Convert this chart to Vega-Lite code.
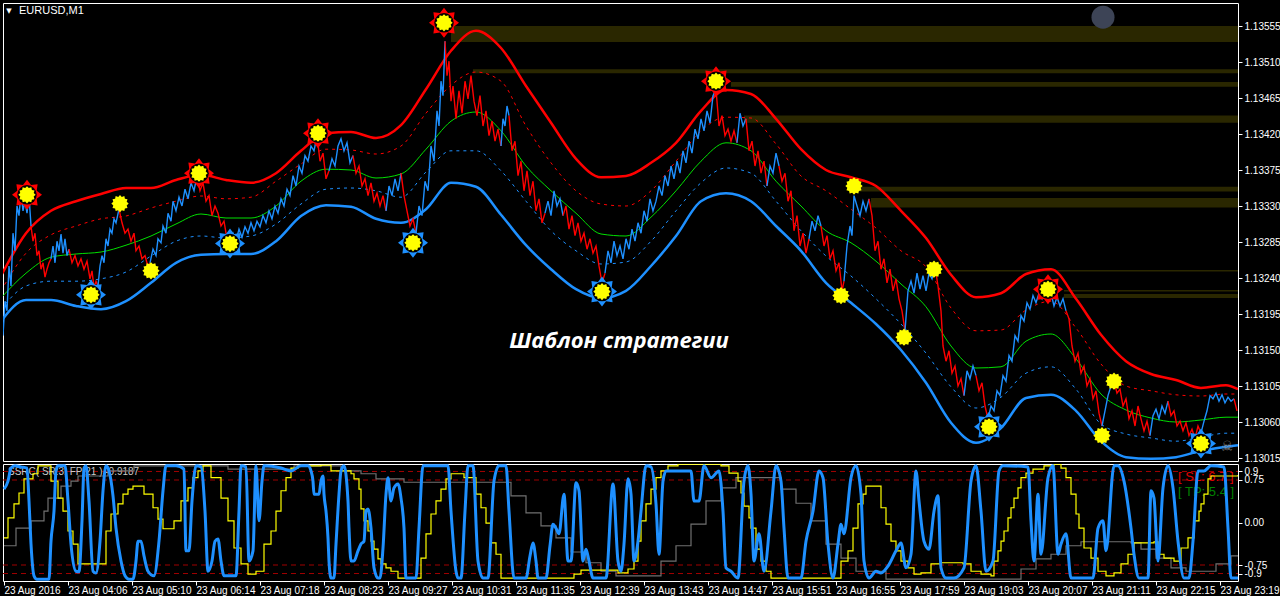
{
"$schema": "https://vega.github.io/schema/vega-lite/v6.json",
"background": "#000000",
"padding": {"left": 2, "top": 2, "right": 0, "bottom": 0},
"bounds": "flush",
"spacing": 3,
"config": {
  "view": {"stroke": "#ffffff", "strokeWidth": 1},
  "axis": {"labelColor": "#ffffff", "tickColor": "#ffffff", "domain": false, "grid": false, "labelFont": "Liberation Sans", "labelFontSize": 10, "title": null}
},
"datasets": {
  "price": [
{"t":2,"p":1.13168,"s":0,"d":"u"},{"t":4,"p":1.13211,"s":0,"d":"u"},{"t":6,"p":1.13199,"s":0,"d":"u"},{"t":8,"p":1.13255,"s":0,"d":"u"},{"t":10,"p":1.1323,"s":0,"d":"u"},{"t":12,"p":1.13296,"s":0,"d":"u"},{"t":14,"p":1.13274,"s":0,"d":"u"},{"t":16,"p":1.1333,"s":0,"d":"u"},{"t":18,"p":1.13318,"s":0,"d":"u"},{"t":20,"p":1.13346,"s":0,"d":"u"},{"t":22,"p":1.13324,"s":0,"d":"u"},{"t":24,"p":1.13336,"s":0,"d":"u"},{"t":26,"p":1.13321,"s":0,"d":"u"},{"t":28,"p":1.13343,"s":0,"d":"u"},{"t":30,"p":1.13305,"s":0,"d":"u"},
{"t":30,"p":1.13305,"s":1,"d":"d"},{"t":32,"p":1.13286,"s":1,"d":"d"},{"t":34,"p":1.13296,"s":1,"d":"d"},{"t":36,"p":1.13268,"s":1,"d":"d"},{"t":38,"p":1.13274,"s":1,"d":"d"},{"t":40,"p":1.13251,"s":1,"d":"d"},{"t":42,"p":1.13259,"s":1,"d":"d"},{"t":44,"p":1.13241,"s":1,"d":"d"},{"t":46,"p":1.13251,"s":1,"d":"d"},{"t":48,"p":1.13259,"s":1,"d":"d"},{"t":50,"p":1.13264,"s":1,"d":"d"},
{"t":50,"p":1.13264,"s":2,"d":"u"},{"t":52,"p":1.1328,"s":2,"d":"u"},{"t":54,"p":1.13259,"s":2,"d":"u"},{"t":56,"p":1.13286,"s":2,"d":"u"},{"t":58,"p":1.13274,"s":2,"d":"u"},{"t":60,"p":1.13295,"s":2,"d":"u"},{"t":62,"p":1.13271,"s":2,"d":"u"},{"t":64,"p":1.13289,"s":2,"d":"u"},{"t":66,"p":1.13268,"s":2,"d":"u"},{"t":68,"p":1.13276,"s":2,"d":"u"},
{"t":68,"p":1.13276,"s":3,"d":"d"},{"t":71,"p":1.13259,"s":3,"d":"d"},{"t":74,"p":1.13268,"s":3,"d":"d"},{"t":77,"p":1.13255,"s":3,"d":"d"},{"t":80,"p":1.13264,"s":3,"d":"d"},{"t":83,"p":1.13251,"s":3,"d":"d"},{"t":86,"p":1.13261,"s":3,"d":"d"},{"t":89,"p":1.13239,"s":3,"d":"d"},{"t":91,"p":1.13249,"s":3,"d":"d"},{"t":93,"p":1.13228,"s":3,"d":"d"},{"t":95,"p":1.13236,"s":3,"d":"d"},{"t":97,"p":1.1323,"s":3,"d":"d"},
{"t":97,"p":1.1323,"s":4,"d":"u"},{"t":99,"p":1.13255,"s":4,"d":"u"},{"t":101,"p":1.13268,"s":4,"d":"u"},{"t":103,"p":1.13259,"s":4,"d":"u"},{"t":105,"p":1.13289,"s":4,"d":"u"},{"t":107,"p":1.1328,"s":4,"d":"u"},{"t":109,"p":1.13301,"s":4,"d":"u"},{"t":111,"p":1.13296,"s":4,"d":"u"},{"t":113,"p":1.13314,"s":4,"d":"u"},{"t":115,"p":1.13309,"s":4,"d":"u"},{"t":118,"p":1.13326,"s":4,"d":"u"},
{"t":118,"p":1.13326,"s":5,"d":"d"},{"t":121,"p":1.13309,"s":5,"d":"d"},{"t":124,"p":1.13296,"s":5,"d":"d"},{"t":127,"p":1.13301,"s":5,"d":"d"},{"t":130,"p":1.13286,"s":5,"d":"d"},{"t":133,"p":1.13296,"s":5,"d":"d"},{"t":135,"p":1.13274,"s":5,"d":"d"},{"t":138,"p":1.1328,"s":5,"d":"d"},{"t":141,"p":1.13264,"s":5,"d":"d"},{"t":144,"p":1.13268,"s":5,"d":"d"},{"t":147,"p":1.13254,"s":5,"d":"d"},{"t":149,"p":1.13259,"s":5,"d":"d"},
{"t":149,"p":1.13259,"s":6,"d":"u"},{"t":152,"p":1.13276,"s":6,"d":"u"},{"t":155,"p":1.13268,"s":6,"d":"u"},{"t":157,"p":1.13289,"s":6,"d":"u"},{"t":160,"p":1.13284,"s":6,"d":"u"},{"t":162,"p":1.13305,"s":6,"d":"u"},{"t":165,"p":1.13296,"s":6,"d":"u"},{"t":167,"p":1.13321,"s":6,"d":"u"},{"t":170,"p":1.13311,"s":6,"d":"u"},{"t":172,"p":1.13336,"s":6,"d":"u"},{"t":175,"p":1.13324,"s":6,"d":"u"},{"t":178,"p":1.13341,"s":6,"d":"u"},{"t":181,"p":1.1333,"s":6,"d":"u"},{"t":184,"p":1.13351,"s":6,"d":"u"},{"t":187,"p":1.13339,"s":6,"d":"u"},{"t":190,"p":1.13359,"s":6,"d":"u"},{"t":193,"p":1.13349,"s":6,"d":"u"},{"t":196,"p":1.13368,"s":6,"d":"u"},
{"t":196,"p":1.13368,"s":7,"d":"d"},{"t":199,"p":1.13349,"s":7,"d":"d"},{"t":202,"p":1.13359,"s":7,"d":"d"},{"t":205,"p":1.13336,"s":7,"d":"d"},{"t":208,"p":1.13343,"s":7,"d":"d"},{"t":211,"p":1.13318,"s":7,"d":"d"},{"t":214,"p":1.1333,"s":7,"d":"d"},{"t":217,"p":1.13321,"s":7,"d":"d"},{"t":220,"p":1.13305,"s":7,"d":"d"},{"t":223,"p":1.13311,"s":7,"d":"d"},{"t":226,"p":1.13289,"s":7,"d":"d"},{"t":229,"p":1.13286,"s":7,"d":"d"},
{"t":229,"p":1.13286,"s":8,"d":"u"},{"t":232,"p":1.13296,"s":8,"d":"u"},{"t":235,"p":1.13286,"s":8,"d":"u"},{"t":238,"p":1.13301,"s":8,"d":"u"},{"t":241,"p":1.13291,"s":8,"d":"u"},{"t":244,"p":1.13304,"s":8,"d":"u"},{"t":247,"p":1.13296,"s":8,"d":"u"},{"t":250,"p":1.13309,"s":8,"d":"u"},{"t":253,"p":1.13299,"s":8,"d":"u"},{"t":256,"p":1.13311,"s":8,"d":"u"},{"t":259,"p":1.13304,"s":8,"d":"u"},{"t":262,"p":1.13318,"s":8,"d":"u"},{"t":265,"p":1.13309,"s":8,"d":"u"},{"t":268,"p":1.13324,"s":8,"d":"u"},{"t":271,"p":1.13314,"s":8,"d":"u"},{"t":274,"p":1.1333,"s":8,"d":"u"},{"t":277,"p":1.13321,"s":8,"d":"u"},{"t":280,"p":1.13339,"s":8,"d":"u"},{"t":283,"p":1.1333,"s":8,"d":"u"},{"t":286,"p":1.13351,"s":8,"d":"u"},{"t":289,"p":1.13343,"s":8,"d":"u"},{"t":292,"p":1.13368,"s":8,"d":"u"},{"t":295,"p":1.13355,"s":8,"d":"u"},{"t":298,"p":1.1338,"s":8,"d":"u"},{"t":301,"p":1.13371,"s":8,"d":"u"},{"t":304,"p":1.13393,"s":8,"d":"u"},{"t":307,"p":1.13386,"s":8,"d":"u"},{"t":310,"p":1.13405,"s":8,"d":"u"},{"t":313,"p":1.13399,"s":8,"d":"u"},{"t":316,"p":1.13418,"s":8,"d":"u"},
{"t":316,"p":1.13418,"s":9,"d":"d"},{"t":319,"p":1.13386,"s":9,"d":"d"},{"t":322,"p":1.13396,"s":9,"d":"d"},{"t":325,"p":1.13364,"s":9,"d":"d"},{"t":328,"p":1.13374,"s":9,"d":"d"},
{"t":328,"p":1.13374,"s":10,"d":"u"},{"t":331,"p":1.13389,"s":10,"d":"u"},{"t":334,"p":1.1338,"s":10,"d":"u"},{"t":337,"p":1.13405,"s":10,"d":"u"},{"t":340,"p":1.13414,"s":10,"d":"u"},{"t":343,"p":1.13399,"s":10,"d":"u"},{"t":346,"p":1.13409,"s":10,"d":"u"},{"t":349,"p":1.13384,"s":10,"d":"u"},{"t":352,"p":1.13393,"s":10,"d":"u"},
{"t":352,"p":1.13393,"s":11,"d":"d"},{"t":355,"p":1.13371,"s":11,"d":"d"},{"t":358,"p":1.1338,"s":11,"d":"d"},{"t":361,"p":1.13355,"s":11,"d":"d"},{"t":364,"p":1.13364,"s":11,"d":"d"},{"t":367,"p":1.13343,"s":11,"d":"d"},{"t":370,"p":1.13359,"s":11,"d":"d"},{"t":373,"p":1.13336,"s":11,"d":"d"},{"t":376,"p":1.13346,"s":11,"d":"d"},{"t":379,"p":1.1333,"s":11,"d":"d"},{"t":382,"p":1.13343,"s":11,"d":"d"},{"t":385,"p":1.13324,"s":11,"d":"d"},
{"t":385,"p":1.13324,"s":12,"d":"u"},{"t":388,"p":1.13355,"s":12,"d":"u"},{"t":391,"p":1.13343,"s":12,"d":"u"},{"t":394,"p":1.13364,"s":12,"d":"u"},{"t":397,"p":1.13349,"s":12,"d":"u"},{"t":400,"p":1.13371,"s":12,"d":"u"},
{"t":400,"p":1.13371,"s":13,"d":"d"},{"t":403,"p":1.13343,"s":13,"d":"d"},{"t":406,"p":1.13324,"s":13,"d":"d"},{"t":409,"p":1.13305,"s":13,"d":"d"},{"t":412,"p":1.13314,"s":13,"d":"d"},{"t":415,"p":1.13296,"s":13,"d":"d"},
{"t":415,"p":1.13296,"s":14,"d":"u"},{"t":418,"p":1.1333,"s":14,"d":"u"},{"t":421,"p":1.13318,"s":14,"d":"u"},{"t":424,"p":1.13361,"s":14,"d":"u"},{"t":427,"p":1.13349,"s":14,"d":"u"},{"t":430,"p":1.13405,"s":14,"d":"u"},{"t":433,"p":1.13386,"s":14,"d":"u"},{"t":436,"p":1.13449,"s":14,"d":"u"},{"t":438,"p":1.1343,"s":14,"d":"u"},{"t":440,"p":1.13486,"s":14,"d":"u"},{"t":442,"p":1.13468,"s":14,"d":"u"},{"t":444,"p":1.13536,"s":14,"d":"u"},
{"t":444,"p":1.13536,"s":15,"d":"d"},{"t":446,"p":1.13493,"s":15,"d":"d"},{"t":448,"p":1.13511,"s":15,"d":"d"},{"t":450,"p":1.13461,"s":15,"d":"d"},{"t":452,"p":1.1348,"s":15,"d":"d"},{"t":455,"p":1.13439,"s":15,"d":"d"},{"t":458,"p":1.13474,"s":15,"d":"d"},{"t":461,"p":1.13446,"s":15,"d":"d"},{"t":464,"p":1.13486,"s":15,"d":"d"},{"t":467,"p":1.13464,"s":15,"d":"d"},{"t":470,"p":1.13493,"s":15,"d":"d"},{"t":473,"p":1.13461,"s":15,"d":"d"},{"t":476,"p":1.13443,"s":15,"d":"d"},{"t":479,"p":1.13468,"s":15,"d":"d"},{"t":482,"p":1.1343,"s":15,"d":"d"},{"t":485,"p":1.13449,"s":15,"d":"d"},{"t":488,"p":1.13418,"s":15,"d":"d"},{"t":491,"p":1.13436,"s":15,"d":"d"},{"t":494,"p":1.13411,"s":15,"d":"d"},{"t":497,"p":1.13426,"s":15,"d":"d"},{"t":500,"p":1.13405,"s":15,"d":"d"},
{"t":500,"p":1.13405,"s":16,"d":"u"},{"t":502,"p":1.13439,"s":16,"d":"u"},{"t":504,"p":1.1343,"s":16,"d":"u"},{"t":506,"p":1.13455,"s":16,"d":"u"},{"t":508,"p":1.13443,"s":16,"d":"u"},
{"t":508,"p":1.13443,"s":17,"d":"d"},{"t":511,"p":1.13399,"s":17,"d":"d"},{"t":514,"p":1.13411,"s":17,"d":"d"},{"t":517,"p":1.13368,"s":17,"d":"d"},{"t":520,"p":1.13386,"s":17,"d":"d"},{"t":523,"p":1.13349,"s":17,"d":"d"},{"t":526,"p":1.13374,"s":17,"d":"d"},{"t":529,"p":1.13343,"s":17,"d":"d"},{"t":532,"p":1.13361,"s":17,"d":"d"},{"t":535,"p":1.13324,"s":17,"d":"d"},{"t":538,"p":1.13339,"s":17,"d":"d"},{"t":541,"p":1.13309,"s":17,"d":"d"},{"t":544,"p":1.13321,"s":17,"d":"d"},
{"t":544,"p":1.13321,"s":18,"d":"u"},{"t":547,"p":1.13336,"s":18,"d":"u"},{"t":550,"p":1.13318,"s":18,"d":"u"},{"t":553,"p":1.13349,"s":18,"d":"u"},{"t":556,"p":1.1333,"s":18,"d":"u"},{"t":559,"p":1.13339,"s":18,"d":"u"},{"t":562,"p":1.13318,"s":18,"d":"u"},
{"t":562,"p":1.13318,"s":19,"d":"d"},{"t":565,"p":1.1333,"s":19,"d":"d"},{"t":568,"p":1.13301,"s":19,"d":"d"},{"t":571,"p":1.13318,"s":19,"d":"d"},{"t":574,"p":1.13293,"s":19,"d":"d"},{"t":577,"p":1.13309,"s":19,"d":"d"},{"t":580,"p":1.13286,"s":19,"d":"d"},{"t":583,"p":1.13296,"s":19,"d":"d"},{"t":586,"p":1.13276,"s":19,"d":"d"},{"t":589,"p":1.13289,"s":19,"d":"d"},{"t":592,"p":1.13271,"s":19,"d":"d"},{"t":595,"p":1.1328,"s":19,"d":"d"},{"t":598,"p":1.13255,"s":19,"d":"d"},{"t":601,"p":1.13234,"s":19,"d":"d"},{"t":604,"p":1.13246,"s":19,"d":"d"},
{"t":604,"p":1.13246,"s":20,"d":"u"},{"t":607,"p":1.13274,"s":20,"d":"u"},{"t":610,"p":1.13259,"s":20,"d":"u"},{"t":613,"p":1.13286,"s":20,"d":"u"},{"t":616,"p":1.13268,"s":20,"d":"u"},{"t":619,"p":1.1328,"s":20,"d":"u"},{"t":622,"p":1.13264,"s":20,"d":"u"},{"t":625,"p":1.13289,"s":20,"d":"u"},{"t":628,"p":1.13276,"s":20,"d":"u"},{"t":631,"p":1.13301,"s":20,"d":"u"},{"t":634,"p":1.13286,"s":20,"d":"u"},{"t":637,"p":1.13309,"s":20,"d":"u"},{"t":640,"p":1.13296,"s":20,"d":"u"},{"t":643,"p":1.13324,"s":20,"d":"u"},{"t":646,"p":1.13311,"s":20,"d":"u"},{"t":649,"p":1.13339,"s":20,"d":"u"},{"t":652,"p":1.13324,"s":20,"d":"u"},{"t":655,"p":1.13336,"s":20,"d":"u"},{"t":658,"p":1.13355,"s":20,"d":"u"},{"t":661,"p":1.13343,"s":20,"d":"u"},{"t":664,"p":1.13368,"s":20,"d":"u"},{"t":667,"p":1.13355,"s":20,"d":"u"},{"t":670,"p":1.1338,"s":20,"d":"u"},{"t":673,"p":1.13364,"s":20,"d":"u"},{"t":676,"p":1.13386,"s":20,"d":"u"},{"t":679,"p":1.13371,"s":20,"d":"u"},{"t":682,"p":1.13399,"s":20,"d":"u"},{"t":685,"p":1.13384,"s":20,"d":"u"},{"t":688,"p":1.13411,"s":20,"d":"u"},{"t":691,"p":1.13396,"s":20,"d":"u"},{"t":694,"p":1.13426,"s":20,"d":"u"},{"t":697,"p":1.13414,"s":20,"d":"u"},{"t":700,"p":1.13439,"s":20,"d":"u"},{"t":703,"p":1.13424,"s":20,"d":"u"},{"t":706,"p":1.13449,"s":20,"d":"u"},{"t":709,"p":1.13434,"s":20,"d":"u"},{"t":712,"p":1.13468,"s":20,"d":"u"},{"t":715,"p":1.13476,"s":20,"d":"u"},
{"t":715,"p":1.13476,"s":21,"d":"d"},{"t":718,"p":1.1343,"s":21,"d":"d"},{"t":721,"p":1.13443,"s":21,"d":"d"},{"t":724,"p":1.13418,"s":21,"d":"d"},{"t":727,"p":1.13426,"s":21,"d":"d"},{"t":730,"p":1.13411,"s":21,"d":"d"},{"t":733,"p":1.13424,"s":21,"d":"d"},{"t":736,"p":1.13409,"s":21,"d":"d"},
{"t":736,"p":1.13409,"s":22,"d":"u"},{"t":739,"p":1.13446,"s":22,"d":"u"},{"t":742,"p":1.1343,"s":22,"d":"u"},{"t":745,"p":1.13439,"s":22,"d":"u"},
{"t":745,"p":1.13439,"s":23,"d":"d"},{"t":748,"p":1.13399,"s":23,"d":"d"},{"t":751,"p":1.13411,"s":23,"d":"d"},{"t":754,"p":1.1338,"s":23,"d":"d"},{"t":757,"p":1.13399,"s":23,"d":"d"},{"t":760,"p":1.13371,"s":23,"d":"d"},{"t":763,"p":1.13386,"s":23,"d":"d"},{"t":766,"p":1.13355,"s":23,"d":"d"},
{"t":766,"p":1.13355,"s":24,"d":"u"},{"t":769,"p":1.1338,"s":24,"d":"u"},{"t":772,"p":1.13371,"s":24,"d":"u"},{"t":775,"p":1.13396,"s":24,"d":"u"},{"t":778,"p":1.1338,"s":24,"d":"u"},
{"t":778,"p":1.1338,"s":25,"d":"d"},{"t":781,"p":1.13361,"s":25,"d":"d"},{"t":784,"p":1.13371,"s":25,"d":"d"},{"t":787,"p":1.13336,"s":25,"d":"d"},{"t":790,"p":1.13349,"s":25,"d":"d"},{"t":793,"p":1.13299,"s":25,"d":"d"},{"t":796,"p":1.13318,"s":25,"d":"d"},{"t":799,"p":1.1328,"s":25,"d":"d"},{"t":802,"p":1.13296,"s":25,"d":"d"},{"t":805,"p":1.13271,"s":25,"d":"d"},{"t":808,"p":1.13289,"s":25,"d":"d"},
{"t":808,"p":1.13289,"s":26,"d":"u"},{"t":811,"p":1.13311,"s":26,"d":"u"},{"t":814,"p":1.13299,"s":26,"d":"u"},{"t":817,"p":1.13318,"s":26,"d":"u"},{"t":820,"p":1.13305,"s":26,"d":"u"},
{"t":820,"p":1.13305,"s":27,"d":"d"},{"t":823,"p":1.1328,"s":27,"d":"d"},{"t":826,"p":1.13293,"s":27,"d":"d"},{"t":829,"p":1.13264,"s":27,"d":"d"},{"t":832,"p":1.13274,"s":27,"d":"d"},{"t":835,"p":1.13249,"s":27,"d":"d"},{"t":838,"p":1.13259,"s":27,"d":"d"},{"t":841,"p":1.13224,"s":27,"d":"d"},{"t":843,"p":1.13236,"s":27,"d":"d"},
{"t":843,"p":1.13236,"s":28,"d":"u"},{"t":846,"p":1.1328,"s":28,"d":"u"},{"t":849,"p":1.13305,"s":28,"d":"u"},{"t":851,"p":1.13293,"s":28,"d":"u"},{"t":853,"p":1.13343,"s":28,"d":"u"},{"t":856,"p":1.1333,"s":28,"d":"u"},{"t":859,"p":1.13318,"s":28,"d":"u"},{"t":862,"p":1.13336,"s":28,"d":"u"},{"t":865,"p":1.13324,"s":28,"d":"u"},{"t":868,"p":1.13339,"s":28,"d":"u"},
{"t":868,"p":1.13339,"s":29,"d":"d"},{"t":871,"p":1.13318,"s":29,"d":"d"},{"t":874,"p":1.13274,"s":29,"d":"d"},{"t":877,"p":1.13286,"s":29,"d":"d"},{"t":880,"p":1.13251,"s":29,"d":"d"},{"t":883,"p":1.13264,"s":29,"d":"d"},{"t":886,"p":1.13234,"s":29,"d":"d"},{"t":889,"p":1.13251,"s":29,"d":"d"},{"t":892,"p":1.13224,"s":29,"d":"d"},{"t":895,"p":1.13239,"s":29,"d":"d"},{"t":898,"p":1.13214,"s":29,"d":"d"},{"t":901,"p":1.13199,"s":29,"d":"d"},{"t":904,"p":1.13174,"s":29,"d":"d"},
{"t":904,"p":1.13174,"s":30,"d":"u"},{"t":907,"p":1.13224,"s":30,"d":"u"},{"t":910,"p":1.13236,"s":30,"d":"u"},{"t":913,"p":1.13221,"s":30,"d":"u"},{"t":916,"p":1.13246,"s":30,"d":"u"},{"t":919,"p":1.13226,"s":30,"d":"u"},{"t":922,"p":1.13243,"s":30,"d":"u"},{"t":925,"p":1.13224,"s":30,"d":"u"},{"t":928,"p":1.13246,"s":30,"d":"u"},{"t":931,"p":1.13239,"s":30,"d":"u"},{"t":934,"p":1.13255,"s":30,"d":"u"},
{"t":934,"p":1.13255,"s":31,"d":"d"},{"t":937,"p":1.1323,"s":31,"d":"d"},{"t":940,"p":1.13199,"s":31,"d":"d"},{"t":942,"p":1.13155,"s":31,"d":"d"},{"t":945,"p":1.13136,"s":31,"d":"d"},{"t":948,"p":1.13149,"s":31,"d":"d"},{"t":951,"p":1.13121,"s":31,"d":"d"},{"t":954,"p":1.1313,"s":31,"d":"d"},{"t":957,"p":1.13105,"s":31,"d":"d"},{"t":960,"p":1.13114,"s":31,"d":"d"},{"t":963,"p":1.13093,"s":31,"d":"d"},
{"t":963,"p":1.13093,"s":32,"d":"u"},{"t":966,"p":1.13124,"s":32,"d":"u"},{"t":969,"p":1.13114,"s":32,"d":"u"},{"t":972,"p":1.1313,"s":32,"d":"u"},{"t":975,"p":1.13118,"s":32,"d":"u"},
{"t":975,"p":1.13118,"s":33,"d":"d"},{"t":978,"p":1.13099,"s":33,"d":"d"},{"t":981,"p":1.13109,"s":33,"d":"d"},{"t":984,"p":1.1308,"s":33,"d":"d"},{"t":987,"p":1.13064,"s":33,"d":"d"},
{"t":987,"p":1.13064,"s":34,"d":"u"},{"t":990,"p":1.1308,"s":34,"d":"u"},{"t":993,"p":1.13074,"s":34,"d":"u"},{"t":996,"p":1.13099,"s":34,"d":"u"},{"t":999,"p":1.13093,"s":34,"d":"u"},{"t":1002,"p":1.13118,"s":34,"d":"u"},{"t":1005,"p":1.13111,"s":34,"d":"u"},{"t":1008,"p":1.13143,"s":34,"d":"u"},{"t":1011,"p":1.13136,"s":34,"d":"u"},{"t":1014,"p":1.13168,"s":34,"d":"u"},{"t":1017,"p":1.13161,"s":34,"d":"u"},{"t":1020,"p":1.13193,"s":34,"d":"u"},{"t":1023,"p":1.13186,"s":34,"d":"u"},{"t":1026,"p":1.13209,"s":34,"d":"u"},{"t":1029,"p":1.13201,"s":34,"d":"u"},{"t":1032,"p":1.13218,"s":34,"d":"u"},{"t":1035,"p":1.13209,"s":34,"d":"u"},{"t":1038,"p":1.13221,"s":34,"d":"u"},{"t":1041,"p":1.13214,"s":34,"d":"u"},{"t":1044,"p":1.13226,"s":34,"d":"u"},{"t":1047,"p":1.13211,"s":34,"d":"u"},{"t":1050,"p":1.13221,"s":34,"d":"u"},{"t":1053,"p":1.13205,"s":34,"d":"u"},{"t":1056,"p":1.13216,"s":34,"d":"u"},{"t":1059,"p":1.13205,"s":34,"d":"u"},{"t":1062,"p":1.13214,"s":34,"d":"u"},{"t":1065,"p":1.13199,"s":34,"d":"u"},
{"t":1065,"p":1.13199,"s":35,"d":"d"},{"t":1068,"p":1.13189,"s":35,"d":"d"},{"t":1071,"p":1.13155,"s":35,"d":"d"},{"t":1074,"p":1.13136,"s":35,"d":"d"},{"t":1077,"p":1.13146,"s":35,"d":"d"},{"t":1080,"p":1.13121,"s":35,"d":"d"},{"t":1083,"p":1.1313,"s":35,"d":"d"},{"t":1086,"p":1.13105,"s":35,"d":"d"},{"t":1089,"p":1.13114,"s":35,"d":"d"},{"t":1092,"p":1.13089,"s":35,"d":"d"},{"t":1095,"p":1.13099,"s":35,"d":"d"},{"t":1098,"p":1.13071,"s":35,"d":"d"},{"t":1101,"p":1.13055,"s":35,"d":"d"},
{"t":1101,"p":1.13055,"s":36,"d":"u"},{"t":1104,"p":1.13074,"s":36,"d":"u"},{"t":1107,"p":1.13093,"s":36,"d":"u"},{"t":1110,"p":1.13105,"s":36,"d":"u"},{"t":1113,"p":1.13111,"s":36,"d":"u"},
{"t":1113,"p":1.13111,"s":37,"d":"d"},{"t":1116,"p":1.13096,"s":37,"d":"d"},{"t":1119,"p":1.13101,"s":37,"d":"d"},{"t":1122,"p":1.1308,"s":37,"d":"d"},{"t":1125,"p":1.13089,"s":37,"d":"d"},{"t":1128,"p":1.13064,"s":37,"d":"d"},{"t":1131,"p":1.13074,"s":37,"d":"d"},{"t":1134,"p":1.13055,"s":37,"d":"d"},{"t":1137,"p":1.1308,"s":37,"d":"d"},{"t":1140,"p":1.13064,"s":37,"d":"d"},{"t":1143,"p":1.13049,"s":37,"d":"d"},{"t":1146,"p":1.13061,"s":37,"d":"d"},{"t":1149,"p":1.13043,"s":37,"d":"d"},
{"t":1149,"p":1.13043,"s":38,"d":"u"},{"t":1152,"p":1.13068,"s":38,"d":"u"},{"t":1155,"p":1.13076,"s":38,"d":"u"},{"t":1158,"p":1.13064,"s":38,"d":"u"},{"t":1161,"p":1.1308,"s":38,"d":"u"},{"t":1164,"p":1.13071,"s":38,"d":"u"},{"t":1167,"p":1.13086,"s":38,"d":"u"},
{"t":1167,"p":1.13086,"s":39,"d":"d"},{"t":1170,"p":1.13068,"s":39,"d":"d"},{"t":1173,"p":1.13074,"s":39,"d":"d"},{"t":1176,"p":1.13055,"s":39,"d":"d"},{"t":1179,"p":1.13061,"s":39,"d":"d"},{"t":1182,"p":1.13049,"s":39,"d":"d"},{"t":1185,"p":1.13059,"s":39,"d":"d"},{"t":1188,"p":1.13043,"s":39,"d":"d"},{"t":1191,"p":1.13051,"s":39,"d":"d"},{"t":1194,"p":1.13039,"s":39,"d":"d"},{"t":1197,"p":1.13055,"s":39,"d":"d"},{"t":1200,"p":1.13046,"s":39,"d":"d"},
{"t":1200,"p":1.13046,"s":40,"d":"u"},{"t":1203,"p":1.13061,"s":40,"d":"u"},{"t":1206,"p":1.13074,"s":40,"d":"u"},{"t":1209,"p":1.13093,"s":40,"d":"u"},{"t":1212,"p":1.13089,"s":40,"d":"u"},{"t":1215,"p":1.13096,"s":40,"d":"u"},{"t":1218,"p":1.13086,"s":40,"d":"u"},{"t":1221,"p":1.13094,"s":40,"d":"u"},{"t":1224,"p":1.13084,"s":40,"d":"u"},{"t":1227,"p":1.13091,"s":40,"d":"u"},{"t":1230,"p":1.13086,"s":40,"d":"u"},{"t":1233,"p":1.13089,"s":40,"d":"u"},
{"t":1233,"p":1.13089,"s":41,"d":"d"},{"t":1236,"p":1.13074,"s":41,"d":"d"}
  ],
  "bands": [
{"t":0,"u":1.132425,"um":1.13224,"m":1.13215,"lm":1.13201,"l":1.13186},
{"t":25,"u":1.13296,"um":1.13271,"m":1.13246,"lm":1.1323,"l":1.132125},
{"t":50,"u":1.13324,"um":1.13294,"m":1.13266,"lm":1.13236,"l":1.132125},
{"t":75,"u":1.13336,"um":1.13305,"m":1.1327,"lm":1.13236,"l":1.13205},
{"t":100,"u":1.13345,"um":1.13314,"m":1.132725,"lm":1.13239,"l":1.13201},
{"t":125,"u":1.133525,"um":1.133175,"m":1.13281,"lm":1.132475,"l":1.13211},
{"t":150,"u":1.133525,"um":1.133275,"m":1.132925,"lm":1.132675,"l":1.13234},
{"t":175,"u":1.133625,"um":1.13336,"m":1.133075,"lm":1.13286,"l":1.13259},
{"t":200,"u":1.13369,"um":1.133425,"m":1.1332,"lm":1.132925,"l":1.13269},
{"t":225,"u":1.133625,"um":1.13339,"m":1.13315,"lm":1.1329,"l":1.1327},
{"t":250,"u":1.13359,"um":1.13341,"m":1.13315,"lm":1.132925,"l":1.1327},
{"t":275,"u":1.13371,"um":1.13361,"m":1.1333,"lm":1.133075,"l":1.13286},
{"t":300,"u":1.13399,"um":1.133825,"m":1.13361,"lm":1.133325,"l":1.133175},
{"t":325,"u":1.13421,"um":1.13401,"m":1.13376,"lm":1.13351,"l":1.13331},
{"t":350,"u":1.134225,"um":1.134,"m":1.13375,"lm":1.133525,"l":1.13329},
{"t":375,"u":1.13415,"um":1.13395,"m":1.13365,"lm":1.13349,"l":1.13314},
{"t":400,"u":1.13431,"um":1.13405,"m":1.1337,"lm":1.13341,"l":1.13309},
{"t":425,"u":1.13476,"um":1.13446,"m":1.13401,"lm":1.133725,"l":1.13326},
{"t":450,"u":1.13524,"um":1.13481,"m":1.13436,"lm":1.13399,"l":1.13359},
{"t":475,"u":1.13549,"um":1.134975,"m":1.134475,"lm":1.13399,"l":1.13354},
{"t":500,"u":1.135275,"um":1.13486,"m":1.13424,"lm":1.13374,"l":1.13319},
{"t":525,"u":1.1348,"um":1.1343,"m":1.1338,"lm":1.13336,"l":1.13281},
{"t":550,"u":1.13434,"um":1.13384,"m":1.13349,"lm":1.13299,"l":1.13251},
{"t":575,"u":1.13389,"um":1.13349,"m":1.13321,"lm":1.13274,"l":1.13226},
{"t":600,"u":1.13366,"um":1.133325,"m":1.13295,"lm":1.132575,"l":1.13215},
{"t":625,"u":1.133675,"um":1.1333,"m":1.132925,"lm":1.1326,"l":1.13224},
{"t":650,"u":1.13384,"um":1.13349,"m":1.13316,"lm":1.13286,"l":1.13255},
{"t":675,"u":1.13409,"um":1.13386,"m":1.13349,"lm":1.13324,"l":1.132925},
{"t":700,"u":1.13449,"um":1.13424,"m":1.13386,"lm":1.13359,"l":1.13336},
{"t":725,"u":1.13475,"um":1.13441,"m":1.13409,"lm":1.133775,"l":1.13346},
{"t":750,"u":1.1347,"um":1.1344,"m":1.13399,"lm":1.13371,"l":1.13336},
{"t":775,"u":1.13439,"um":1.134075,"m":1.13361,"lm":1.13336,"l":1.13305},
{"t":800,"u":1.13401,"um":1.133675,"m":1.1333,"lm":1.13299,"l":1.13274},
{"t":825,"u":1.13375,"um":1.13349,"m":1.13299,"lm":1.132675,"l":1.13234},
{"t":850,"u":1.13366,"um":1.13326,"m":1.13284,"lm":1.132425,"l":1.13209},
{"t":875,"u":1.13355,"um":1.133025,"m":1.13261,"lm":1.13214,"l":1.131825},
{"t":900,"u":1.13324,"um":1.13274,"m":1.132325,"lm":1.131825,"l":1.1315},
{"t":925,"u":1.1329,"um":1.13254,"m":1.13204,"lm":1.13146,"l":1.13109},
{"t":950,"u":1.13244,"um":1.132025,"m":1.13155,"lm":1.13104,"l":1.13059},
{"t":975,"u":1.13216,"um":1.13174,"m":1.131275,"lm":1.130775,"l":1.13034},
{"t":1000,"u":1.13221,"um":1.13175,"m":1.13129,"lm":1.13091,"l":1.130525},
{"t":1025,"u":1.13245,"um":1.132,"m":1.13161,"lm":1.13121,"l":1.1309},
{"t":1050,"u":1.13251,"um":1.13211,"m":1.1317,"lm":1.13129,"l":1.13094},
{"t":1075,"u":1.13214,"um":1.131775,"m":1.13139,"lm":1.13101,"l":1.13074},
{"t":1100,"u":1.13169,"um":1.131325,"m":1.13095,"lm":1.130575,"l":1.13036},
{"t":1125,"u":1.13136,"um":1.13105,"m":1.13075,"lm":1.13045,"l":1.13016},
{"t":1150,"u":1.1312,"um":1.13099,"m":1.13065,"lm":1.1304,"l":1.13014},
{"t":1175,"u":1.131125,"um":1.13094,"m":1.1306,"lm":1.13036,"l":1.13016},
{"t":1200,"u":1.131025,"um":1.130925,"m":1.130625,"lm":1.13041,"l":1.13024},
{"t":1225,"u":1.13106,"um":1.13095,"m":1.13066,"lm":1.13046,"l":1.13029},
{"t":1237,"u":1.13101,"um":1.13095,"m":1.13066,"lm":1.13046,"l":1.13031}
  ],
  "zones": [
{"t":450,"t2":1237,"p":1.13555,"p2":1.13535},
{"t":472,"t2":1237,"p":1.13501,"p2":1.13496},
{"t":730,"t2":1237,"p":1.13485,"p2":1.13479},
{"t":743,"t2":1237,"p":1.13443,"p2":1.13434},
{"t":857,"t2":1237,"p":1.13354,"p2":1.13348},
{"t":870,"t2":1237,"p":1.1334,"p2":1.13328},
{"t":947,"t2":1237,"p":1.1325,"p2":1.13248},
{"t":1063,"t2":1237,"p":1.13225,"p2":1.13223},
{"t":1063,"t2":1237,"p":1.1322,"p2":1.13215}
  ],
  "stars": [
{"t":26,"p":1.13344,"k":"top"},{"t":198,"p":1.13371,"k":"top"},{"t":317,"p":1.13421,"k":"top"},{"t":443,"p":1.13559,"k":"top"},{"t":715,"p":1.13486,"k":"top"},{"t":1047,"p":1.13226,"k":"top"},
{"t":90,"p":1.13219,"k":"bot"},{"t":229,"p":1.13283,"k":"bot"},{"t":412,"p":1.13284,"k":"bot"},{"t":601,"p":1.13223,"k":"bot"},{"t":988,"p":1.13054,"k":"bot"},{"t":1200,"p":1.13033,"k":"bot"},
{"t":119,"p":1.13333,"k":"sig"},{"t":150,"p":1.13249,"k":"sig"},{"t":853,"p":1.13355,"k":"sig"},{"t":840,"p":1.13218,"k":"sig"},{"t":903,"p":1.13166,"k":"sig"},{"t":933,"p":1.13251,"k":"sig"},{"t":1101,"p":1.13043,"k":"sig"},{"t":1113,"p":1.13111,"k":"sig"}
  ],
  "levels": [
{"t":2,"t2":1237,"v":0.9},{"t":2,"t2":1237,"v":0.75},{"t":2,"t2":1237,"v":-0.75},{"t":2,"t2":1237,"v":-0.9}
  ],
  "blue": [
{"t":3,"v":0.59},{"t":7,"v":0.73},{"t":10,"v":0.96},{"t":14,"v":1.0},{"t":20,"v":0.98},{"t":26,"v":0.96},{"t":28,"v":0.38},{"t":30,"v":-0.38},{"t":33,"v":-0.94},{"t":36,"v":-1.0},{"t":48,"v":-1.0},{"t":50,"v":-0.33},{"t":53,"v":0.2},{"t":55,"v":0.91},{"t":57,"v":1.0},{"t":64,"v":1.0},{"t":67,"v":0.38},{"t":70,"v":-0.38},{"t":75,"v":-0.86},{"t":78,"v":-0.87},{"t":81,"v":0.03},{"t":83,"v":0.96},{"t":85,"v":1.0},{"t":88,"v":0.38},{"t":92,"v":-0.86},{"t":95,"v":-0.89},{"t":99,"v":-0.33},{"t":102,"v":0.56},{"t":105,"v":1.0},{"t":108,"v":0.91},{"t":112,"v":0.47},{"t":115,"v":-0.1},{"t":120,"v":-0.68},{"t":124,"v":-0.94},{"t":128,"v":-1.0},{"t":132,"v":-1.0},{"t":135,"v":-0.68},{"t":137,"v":-0.33},{"t":140,"v":-0.33},{"t":143,"v":-0.59},{"t":147,"v":-0.86},{"t":153,"v":-0.94},{"t":158,"v":-0.33},{"t":162,"v":0.56},{"t":165,"v":1.0},{"t":175,"v":1.0},{"t":183,"v":0.94},{"t":185,"v":-0.5},{"t":188,"v":-0.5},{"t":191,"v":0.38},{"t":195,"v":1.0},{"t":200,"v":0.98},{"t":204,"v":0.2},{"t":207,"v":-0.86},{"t":211,"v":-0.68},{"t":214,"v":-0.33},{"t":217,"v":-0.29},{"t":220,"v":-0.68},{"t":223,"v":-0.94},{"t":235,"v":-0.94},{"t":238,"v":0.2},{"t":240,"v":1.0},{"t":245,"v":0.98},{"t":248,"v":-0.68},{"t":252,"v":-0.5},{"t":255,"v":1.0},{"t":258,"v":0.03},{"t":261,"v":0.73},{"t":263,"v":1.0},{"t":280,"v":0.96},{"t":290,"v":0.91},{"t":300,"v":1.0},{"t":307,"v":1.0},{"t":310,"v":0.91},{"t":312,"v":0.73},{"t":313,"v":0.5},{"t":318,"v":0.5},{"t":320,"v":0.73},{"t":322,"v":0.82},{"t":323,"v":0.5},{"t":325,"v":0.2},{"t":327,"v":-0.27},{"t":328,"v":-0.68},{"t":330,"v":-0.98},{"t":333,"v":-0.98},{"t":335,"v":-0.38},{"t":338,"v":0.5},{"t":340,"v":0.91},{"t":343,"v":1.0},{"t":347,"v":0.38},{"t":348,"v":-0.1},{"t":350,"v":-0.68},{"t":353,"v":-0.68},{"t":357,"v":-0.5},{"t":360,"v":-0.38},{"t":363,"v":-0.33},{"t":365,"v":0.2},{"t":367,"v":0.24},{"t":370,"v":-0.1},{"t":373,"v":-0.8},{"t":377,"v":-0.98},{"t":379,"v":-0.98},{"t":382,"v":-0.45},{"t":385,"v":0.5},{"t":387,"v":0.79},{"t":390,"v":0.38},{"t":393,"v":0.61},{"t":397,"v":0.68},{"t":400,"v":0.43},{"t":403,"v":-0.1},{"t":405,"v":-0.98},{"t":415,"v":-0.98},{"t":418,"v":-0.1},{"t":422,"v":1.0},{"t":447,"v":1.0},{"t":450,"v":0.2},{"t":455,"v":-0.86},{"t":457,"v":-0.98},{"t":460,"v":-0.98},{"t":464,"v":0.2},{"t":467,"v":1.0},{"t":472,"v":1.0},{"t":477,"v":-0.68},{"t":482,"v":-0.98},{"t":487,"v":-0.98},{"t":493,"v":0.73},{"t":498,"v":1.0},{"t":505,"v":1.0},{"t":508,"v":0.2},{"t":513,"v":-0.98},{"t":525,"v":-0.98},{"t":529,"v":-0.59},{"t":532,"v":-0.36},{"t":535,"v":-0.68},{"t":537,"v":-0.98},{"t":545,"v":-0.98},{"t":549,"v":-0.41},{"t":552,"v":-0.03},{"t":555,"v":-0.1},{"t":558,"v":-0.2},{"t":563,"v":0.5},{"t":567,"v":-0.68},{"t":570,"v":-0.68},{"t":575,"v":0.7},{"t":578,"v":0.56},{"t":582,"v":-0.68},{"t":585,"v":-0.47},{"t":588,"v":-0.68},{"t":592,"v":-0.98},{"t":605,"v":-0.98},{"t":612,"v":0.68},{"t":617,"v":-0.68},{"t":620,"v":-0.86},{"t":623,"v":-0.38},{"t":627,"v":0.77},{"t":630,"v":0.5},{"t":633,"v":-0.68},{"t":637,"v":-0.33},{"t":640,"v":0.2},{"t":645,"v":1.0},{"t":650,"v":0.98},{"t":655,"v":0.33},{"t":658,"v":-0.56},{"t":662,"v":0.73},{"t":665,"v":0.91},{"t":690,"v":0.91},{"t":693,"v":0.38},{"t":698,"v":0.38},{"t":703,"v":1.0},{"t":710,"v":0.79},{"t":718,"v":0.91},{"t":722,"v":0.2},{"t":725,"v":-0.8},{"t":730,"v":-0.86},{"t":737,"v":-0.98},{"t":743,"v":0.73},{"t":747,"v":1.0},{"t":750,"v":0.5},{"t":753,"v":-0.68},{"t":758,"v":-0.2},{"t":763,"v":-0.86},{"t":770,"v":0.2},{"t":775,"v":1.0},{"t":780,"v":0.73},{"t":783,"v":-0.1},{"t":787,"v":-0.98},{"t":800,"v":-0.98},{"t":805,"v":-0.33},{"t":812,"v":0.2},{"t":818,"v":0.91},{"t":822,"v":0.79},{"t":827,"v":-0.38},{"t":832,"v":-0.98},{"t":837,"v":-0.38},{"t":840,"v":-0.03},{"t":843,"v":-0.2},{"t":850,"v":0.79},{"t":855,"v":1.0},{"t":860,"v":0.5},{"t":863,"v":-0.68},{"t":868,"v":-0.98},{"t":875,"v":-0.86},{"t":880,"v":-0.89},{"t":887,"v":-0.77},{"t":895,"v":-0.5},{"t":900,"v":-0.36},{"t":905,"v":-0.8},{"t":910,"v":-0.56},{"t":915,"v":0.91},{"t":918,"v":0.38},{"t":923,"v":-0.33},{"t":928,"v":-0.47},{"t":933,"v":0.2},{"t":937,"v":0.47},{"t":940,"v":-0.8},{"t":945,"v":-0.98},{"t":953,"v":-0.98},{"t":963,"v":-0.8},{"t":970,"v":0.73},{"t":975,"v":1.0},{"t":980,"v":0.2},{"t":985,"v":-0.86},{"t":992,"v":-0.68},{"t":998,"v":0.91},{"t":1002,"v":1.0},{"t":1027,"v":0.98},{"t":1030,"v":0.03},{"t":1033,"v":-0.68},{"t":1037,"v":0.5},{"t":1040,"v":-0.56},{"t":1047,"v":0.79},{"t":1052,"v":1.0},{"t":1057,"v":-0.56},{"t":1060,"v":-0.38},{"t":1065,"v":-0.2},{"t":1070,"v":-0.98},{"t":1092,"v":-0.98},{"t":1097,"v":-0.1},{"t":1102,"v":0.03},{"t":1105,"v":-0.5},{"t":1113,"v":1.0},{"t":1117,"v":1.0},{"t":1123,"v":0.73},{"t":1130,"v":-0.1},{"t":1133,"v":-0.56},{"t":1138,"v":-0.98},{"t":1147,"v":-0.98},{"t":1150,"v":0.56},{"t":1153,"v":0.43},{"t":1157,"v":-0.68},{"t":1162,"v":0.61},{"t":1167,"v":1.0},{"t":1172,"v":0.61},{"t":1177,"v":-0.33},{"t":1183,"v":-0.98},{"t":1188,"v":-0.98},{"t":1192,"v":-0.33},{"t":1197,"v":0.91},{"t":1203,"v":0.91},{"t":1210,"v":1.0},{"t":1223,"v":0.98},{"t":1227,"v":-0.1},{"t":1230,"v":-0.98},{"t":1237,"v":-0.98}
  ],
  "yellow": [
{"t":3,"v":-0.27},{"t":7,"v":0.08},{"t":13,"v":0.33},{"t":18,"v":0.52},{"t":23,"v":0.77},{"t":32,"v":0.86},{"t":37,"v":1.0},{"t":47,"v":1.0},{"t":50,"v":0.73},{"t":57,"v":0.43},{"t":62,"v":0.2},{"t":67,"v":-0.15},{"t":72,"v":-0.38},{"t":77,"v":-0.73},{"t":100,"v":-0.73},{"t":105,"v":-0.15},{"t":110,"v":0.15},{"t":117,"v":0.33},{"t":122,"v":0.5},{"t":127,"v":0.59},{"t":132,"v":0.64},{"t":143,"v":0.5},{"t":152,"v":0.26},{"t":157,"v":0.06},{"t":162,"v":-0.11},{"t":170,"v":-0.11},{"t":173,"v":0.03},{"t":180,"v":0.38},{"t":187,"v":0.61},{"t":192,"v":0.79},{"t":197,"v":0.91},{"t":202,"v":1.0},{"t":210,"v":0.79},{"t":220,"v":0.43},{"t":227,"v":0.03},{"t":233,"v":-0.45},{"t":240,"v":-0.73},{"t":247,"v":-0.91},{"t":255,"v":-0.86},{"t":263,"v":-0.38},{"t":270,"v":-0.15},{"t":275,"v":0.2},{"t":280,"v":0.56},{"t":285,"v":0.79},{"t":290,"v":0.96},{"t":297,"v":1.0},{"t":320,"v":1.01},{"t":330,"v":0.91},{"t":340,"v":0.91},{"t":350,"v":0.86},{"t":353,"v":0.77},{"t":358,"v":0.59},{"t":360,"v":0.24},{"t":363,"v":0.03},{"t":367,"v":-0.15},{"t":370,"v":-0.33},{"t":373,"v":-0.47},{"t":377,"v":-0.64},{"t":380,"v":-0.73},{"t":385,"v":-0.8},{"t":390,"v":-0.86},{"t":397,"v":-0.98},{"t":415,"v":-0.98},{"t":420,"v":-0.63},{"t":425,"v":-0.2},{"t":430,"v":0.15},{"t":435,"v":0.38},{"t":440,"v":0.59},{"t":445,"v":0.77},{"t":450,"v":0.86},{"t":463,"v":0.79},{"t":475,"v":0.5},{"t":480,"v":0.26},{"t":485,"v":-0.01},{"t":490,"v":-0.36},{"t":495,"v":-0.56},{"t":500,"v":-0.98},{"t":570,"v":-0.98},{"t":573,"v":-0.91},{"t":580,"v":-0.84},{"t":617,"v":-0.89},{"t":627,"v":-0.82},{"t":633,"v":-0.68},{"t":637,"v":-0.33},{"t":640,"v":0.03},{"t":645,"v":0.33},{"t":650,"v":0.59},{"t":655,"v":0.79},{"t":660,"v":0.91},{"t":667,"v":1.0},{"t":677,"v":1.03},{"t":713,"v":1.03},{"t":720,"v":1.0},{"t":728,"v":0.87},{"t":737,"v":0.73},{"t":740,"v":0.52},{"t":743,"v":0.29},{"t":748,"v":0.08},{"t":750,"v":-0.1},{"t":755,"v":-0.47},{"t":760,"v":-0.68},{"t":765,"v":-0.86},{"t":770,"v":-0.98},{"t":833,"v":-0.98},{"t":840,"v":-0.68},{"t":847,"v":-0.5},{"t":852,"v":-0.1},{"t":857,"v":0.33},{"t":862,"v":0.5},{"t":865,"v":0.64},{"t":875,"v":0.64},{"t":880,"v":0.26},{"t":885,"v":-0.03},{"t":890,"v":-0.33},{"t":895,"v":-0.5},{"t":900,"v":-0.68},{"t":907,"v":-0.8},{"t":913,"v":-0.91},{"t":920,"v":-0.89},{"t":930,"v":-0.73},{"t":940,"v":-0.71},{"t":962,"v":-0.73},{"t":970,"v":-0.86},{"t":980,"v":-0.91},{"t":990,"v":-0.94},{"t":993,"v":-0.68},{"t":997,"v":-0.5},{"t":1000,"v":-0.33},{"t":1003,"v":-0.15},{"t":1007,"v":0.08},{"t":1010,"v":0.26},{"t":1013,"v":0.43},{"t":1017,"v":0.61},{"t":1020,"v":0.79},{"t":1025,"v":0.87},{"t":1032,"v":0.94},{"t":1043,"v":1.0},{"t":1053,"v":1.03},{"t":1060,"v":0.96},{"t":1065,"v":0.79},{"t":1070,"v":0.5},{"t":1075,"v":0.15},{"t":1078,"v":-0.1},{"t":1083,"v":-0.45},{"t":1090,"v":-0.63},{"t":1097,"v":-0.86},{"t":1105,"v":-0.94},{"t":1113,"v":-0.89},{"t":1120,"v":-0.73},{"t":1127,"v":-0.56},{"t":1133,"v":-0.36},{"t":1153,"v":-0.34},{"t":1157,"v":-0.56},{"t":1163,"v":-0.63},{"t":1173,"v":-0.68},{"t":1180,"v":-0.45},{"t":1187,"v":-0.27},{"t":1193,"v":0.03},{"t":1198,"v":0.2},{"t":1200,"v":0.33},{"t":1203,"v":0.5},{"t":1207,"v":0.77},{"t":1210,"v":0.82},{"t":1237,"v":0.84}
  ],
  "gray": [
{"t":3,"v":-0.41},{"t":15,"v":-0.1},{"t":30,"v":0.03},{"t":43,"v":0.2},{"t":47,"v":0.43},{"t":60,"v":0.64},{"t":70,"v":0.73},{"t":77,"v":0.82},{"t":107,"v":0.91},{"t":133,"v":1.0},{"t":220,"v":1.0},{"t":227,"v":0.94},{"t":293,"v":1.0},{"t":340,"v":0.91},{"t":360,"v":0.86},{"t":375,"v":0.77},{"t":403,"v":0.71},{"t":497,"v":0.71},{"t":510,"v":0.47},{"t":525,"v":0.17},{"t":540,"v":-0.06},{"t":555,"v":-0.27},{"t":570,"v":-0.52},{"t":585,"v":-0.71},{"t":600,"v":-0.86},{"t":615,"v":-0.94},{"t":645,"v":-0.94},{"t":660,"v":-0.68},{"t":675,"v":-0.41},{"t":690,"v":-0.03},{"t":705,"v":0.38},{"t":720,"v":0.61},{"t":735,"v":0.79},{"t":763,"v":0.79},{"t":780,"v":0.59},{"t":795,"v":0.34},{"t":810,"v":0.03},{"t":825,"v":-0.38},{"t":840,"v":-0.63},{"t":855,"v":-0.86},{"t":885,"v":-1.0},{"t":1005,"v":-1.0},{"t":1020,"v":-0.82},{"t":1035,"v":-0.64},{"t":1050,"v":-0.56},{"t":1065,"v":-0.41},{"t":1080,"v":-0.34},{"t":1130,"v":-0.36},{"t":1140,"v":-0.47},{"t":1155,"v":-0.63},{"t":1170,"v":-0.8},{"t":1185,"v":-0.86},{"t":1215,"v":-0.73},{"t":1230,"v":-0.59},{"t":1237,"v":-0.59}
  ]
},
"vconcat": [
  {
    "width": 1235,
    "height": 458,
    "encoding": {
      "x": {"field": "t", "type": "quantitative", "scale": {"domain": [2, 1237], "nice": false, "zero": false}, "axis": null},
      "y": {"field": "p", "type": "quantitative", "scale": {"domain": [1.1301125, 1.1358375], "nice": false, "zero": false},
            "axis": {"orient": "right", "values": [1.13015,1.1306,1.13105,1.1315,1.13195,1.1324,1.13285,1.1333,1.13375,1.1342,1.13465,1.1351,1.13555], "format": ".5f", "tickSize": 4, "labelPadding": 2, "labelBaseline": "middle", "labelOverlap": false, "labelBound": false, "labelFlush": false}}
    },
    "layer": [
      {"data": {"name": "zones"}, "mark": {"type": "rect", "color": "#2a2700", "clip": true}, "encoding": {"x2": {"field": "t2"}, "y2": {"field": "p2"}}},
      {"data": {"values": [{"t": 1102, "p": 1.13566}]}, "mark": {"type": "point", "shape": "circle", "filled": true, "size": 530, "color": "#3d4456", "opacity": 1}},
      {"data": {"name": "bands"}, "transform": [{"fold": ["u","um","m","lm","l"], "as": ["k","p"]}, {"filter": "datum.k == 'u'"}], "mark": {"type": "line", "color": "#ff0000", "strokeWidth": 2.5, "interpolate": "monotone", "clip": true}},
      {"data": {"name": "bands"}, "transform": [{"fold": ["u","um","m","lm","l"], "as": ["k","p"]}, {"filter": "datum.k == 'um'"}], "mark": {"type": "line", "color": "#ff0000", "strokeWidth": 1, "strokeDash": [3, 4], "interpolate": "monotone", "clip": true}},
      {"data": {"name": "bands"}, "transform": [{"fold": ["u","um","m","lm","l"], "as": ["k","p"]}, {"filter": "datum.k == 'm'"}], "mark": {"type": "line", "color": "#00e000", "strokeWidth": 1, "interpolate": "monotone", "clip": true}},
      {"data": {"name": "bands"}, "transform": [{"fold": ["u","um","m","lm","l"], "as": ["k","p"]}, {"filter": "datum.k == 'lm'"}], "mark": {"type": "line", "color": "#1e90ff", "strokeWidth": 1, "strokeDash": [3, 4], "interpolate": "monotone", "clip": true}},
      {"data": {"name": "bands"}, "transform": [{"fold": ["u","um","m","lm","l"], "as": ["k","p"]}, {"filter": "datum.k == 'l'"}], "mark": {"type": "line", "color": "#1e90ff", "strokeWidth": 2.5, "interpolate": "monotone", "clip": true}},
      {"data": {"name": "price"}, "mark": {"type": "line", "strokeWidth": 1.4, "clip": true},
       "encoding": {"detail": {"field": "s", "type": "nominal"}, "color": {"field": "d", "type": "nominal", "scale": {"domain": ["u","d"], "range": ["#1e90ff","#ff0000"]}, "legend": null}}},
      {"data": {"name": "stars"}, "transform": [{"filter": "datum.k != 'sig'"}],
       "mark": {"type": "point", "filled": true, "opacity": 1, "size": 900, "shape": "M0,-1L0.268,-0.647L0.707,-0.707L0.647,-0.268L1,0L0.647,0.268L0.707,0.707L0.268,0.647L0,1L-0.268,0.647L-0.707,0.707L-0.647,0.268L-1,0L-0.647,-0.268L-0.707,-0.707L-0.268,-0.647Z"},
       "encoding": {"fill": {"condition": {"test": "datum.k == 'top'", "value": "#ff0000"}, "value": "#1e90ff"}}},
      {"data": {"name": "stars"}, "transform": [{"filter": "datum.k != 'sig'"}],
       "mark": {"type": "point", "shape": "circle", "filled": true, "opacity": 1, "size": 380, "color": "#000000"}},
      {"data": {"name": "stars"},
       "mark": {"type": "point", "filled": true, "opacity": 1, "size": 300, "color": "#ffff00", "shape": "M1,0L0.773,0.207L0.866,0.5L0.566,0.566L0.5,0.866L0.207,0.773L0,1L-0.207,0.773L-0.5,0.866L-0.566,0.566L-0.866,0.5L-0.773,0.207L-1,0L-0.773,-0.207L-0.866,-0.5L-0.566,-0.566L-0.5,-0.866L-0.207,-0.773L0,-1L0.207,-0.773L0.5,-0.866L0.566,-0.566L0.866,-0.5L0.773,-0.207Z"}},
      {"data": {"values": [{"t": 18, "p": 1.13574, "txt": "EURUSD,M1"}]}, "mark": {"type": "text", "align": "left", "baseline": "middle", "color": "#ffffff", "font": "Liberation Sans", "fontSize": 11}, "encoding": {"text": {"field": "txt"}}},
      {"data": {"values": [{"t": 8, "p": 1.13574, "txt": "▼"}]}, "mark": {"type": "text", "align": "center", "baseline": "middle", "color": "#ffffff", "font": "DejaVu Sans", "fontSize": 7}, "encoding": {"text": {"field": "txt"}}},
      {"data": {"values": [{"t": 618, "p": 1.13161, "txt": "Шаблон стратегии"}]}, "mark": {"type": "text", "align": "center", "baseline": "middle", "color": "#ffffff", "font": "Open Sans", "fontStyle": "italic", "fontWeight": "bold", "fontSize": 22}, "encoding": {"text": {"field": "txt"}}},
      {"data": {"values": [{"t": 1226, "p": 1.13029, "txt": "☠"}]}, "mark": {"type": "text", "align": "center", "baseline": "middle", "color": "#8a8a8a", "font": "DejaVu Sans", "fontSize": 14}, "encoding": {"text": {"field": "txt"}}}
    ]
  },
  {
    "width": 1235,
    "height": 117,
    "encoding": {
      "x": {"field": "t", "type": "quantitative", "scale": {"domain": [2, 1237], "nice": false, "zero": false},
         "axis": {"values": [3,67,131,195,259,323,387,451,515,579,643,707,771,835,899,963,1027,1091,1155,1219],
                  "labelExpr": "['23 Aug 2016','23 Aug 04:06','23 Aug 05:10','23 Aug 06:14','23 Aug 07:18','23 Aug 08:23','23 Aug 09:27','23 Aug 10:31','23 Aug 11:35','23 Aug 12:39','23 Aug 13:43','23 Aug 14:47','23 Aug 15:51','23 Aug 16:55','23 Aug 17:59','23 Aug 19:03','23 Aug 20:07','23 Aug 21:11','23 Aug 22:15','23 Aug 23:19'][round((datum.value-3)/64)]",
                  "orient": "bottom", "labelAlign": "left", "labelBaseline": "top", "tickSize": 4, "labelPadding": 0, "labelOverlap": false, "labelBound": false, "labelFlush": false}},
      "y": {"field": "v", "type": "quantitative", "scale": {"domain": [-1.032, 1.032], "nice": false, "zero": false},
            "axis": {"orient": "right", "values": [0.9, 0.75, 0, -0.75, -0.9], "labelExpr": "datum.value == 0 ? '0.00' : toString(datum.value)", "tickSize": 4, "labelPadding": 2, "labelBaseline": "middle", "labelOverlap": false, "labelBound": false, "labelFlush": false}}
    },
    "layer": [
      {"data": {"name": "levels"}, "mark": {"type": "rule", "color": "#a00000", "strokeWidth": 1, "strokeDash": [5, 4]}, "encoding": {"x2": {"field": "t2"}}},
      {"data": {"values": [{"t": 7, "v": 0.89, "txt": "SSRC( SR:3, FP:21 ) -0.9187"}]}, "mark": {"type": "text", "align": "left", "baseline": "middle", "color": "#c8c8c8", "font": "Liberation Sans", "fontSize": 10}, "encoding": {"text": {"field": "txt"}}},
      {"data": {"values": [{"t": 1177, "v": 0.8, "txt": "[ SL: 6.7 ]"}]}, "mark": {"type": "text", "align": "left", "baseline": "middle", "color": "#e00000", "font": "Liberation Sans", "fontSize": 13}, "encoding": {"text": {"field": "txt"}}},
      {"data": {"values": [{"t": 1177, "v": 0.54, "txt": "[ TP: 5.4 ]"}]}, "mark": {"type": "text", "align": "left", "baseline": "middle", "color": "#008000", "font": "Liberation Sans", "fontSize": 13}, "encoding": {"text": {"field": "txt"}}},
      {"data": {"name": "gray"}, "mark": {"type": "line", "color": "#707070", "strokeWidth": 1.2, "interpolate": "step-after", "clip": true}},
      {"data": {"name": "yellow"}, "mark": {"type": "line", "color": "#ffff00", "strokeWidth": 1.2, "interpolate": "step-after", "clip": true}},
      {"data": {"name": "blue"}, "mark": {"type": "line", "color": "#1e90ff", "strokeWidth": 3, "interpolate": "monotone", "clip": true}}
    ]
  }
]
}
